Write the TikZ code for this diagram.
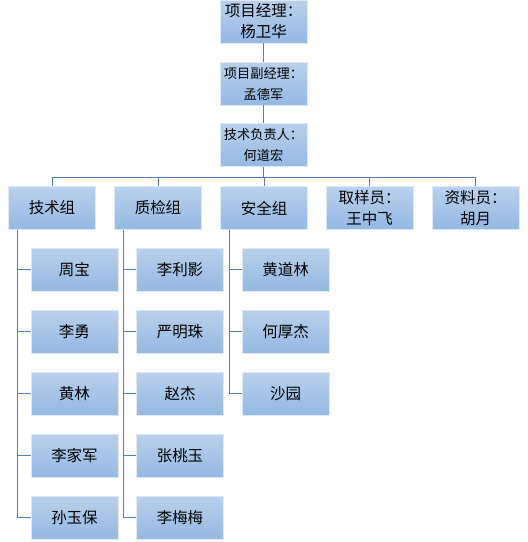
\documentclass[tikz,border=0pt]{standalone}
\usepackage{fontspec}
\newfontfamily\cjk{Noto Sans CJK SC}
\usetikzlibrary{calc}
\definecolor{boxtop}{RGB}{186,208,236}
\definecolor{boxbot}{RGB}{148,185,227}
\definecolor{boxedge}{RGB}{222,233,246}
\definecolor{linec}{RGB}{79,129,189}
\tikzset{
  box/.style={rectangle, top color=boxtop, bottom color=boxbot, draw=boxedge, line width=0.8pt,
    minimum width=87pt, minimum height=43pt, inner sep=0pt, align=center,
    font=\cjk\fontsize{15.5}{21}\selectfont},
  smalltext/.style={font=\cjk\fontsize{13.2}{21}\selectfont},
  conn/.style={draw=linec, line width=1pt}
}
\begin{document}
\begin{tikzpicture}[x=1pt,y=-1pt]
\useasboundingbox (0,0) rectangle (528,542);
\node[box] (pm) at (263.5,21.5) {项目经理：\\杨卫华};
\node[box,smalltext] (dpm) at (263.5,83.5) {项目副经理：\\孟德军};
\node[box,smalltext] (tl) at (263.5,145) {技术负责人：\\何道宏};
\node[box] (g1) at (52,208) {技术组};
\node[box] (g2) at (158,208) {质检组};
\node[box] (g3) at (264,208) {安全组};
\node[box] (g4) at (369.5,208) {取样员：\\王中飞};
\node[box] (g5) at (475.5,208) {资料员：\\胡月};
\coordinate (bus) at (0,177);
% level 1
\draw[conn] (pm.south) -- (dpm.north);
\draw[conn] (dpm.south) -- (tl.north);
\draw[conn] (tl.south) -- (tl.south |- bus);
\draw[conn] (g1.north) -- (g1.north |- bus) -- (g5.north |- bus) -- (g5.north);
\foreach \g in {g2,g3,g4}{\draw[conn] (\g.north) -- (\g.north |- bus);}
% children
\node[box] (a1) at (74.5,269.5) {周宝};
\node[box] (a2) at (74.5,331.5) {李勇};
\node[box] (a3) at (74.5,393.5) {黄林};
\node[box] (a4) at (74.5,455.5) {李家军};
\node[box] (a5) at (74.5,517.5) {孙玉保};
\node[box] (b1) at (180,269.5) {李利影};
\node[box] (b2) at (180,331.5) {严明珠};
\node[box] (b3) at (180,393.5) {赵杰};
\node[box] (b4) at (180,455.5) {张桃玉};
\node[box] (b5) at (180,517.5) {李梅梅};
\node[box] (c1) at (285.5,269.5) {黄道林};
\node[box] (c2) at (285.5,331.5) {何厚杰};
\node[box] (c3) at (285.5,393.5) {沙园};
\foreach \c in {a1,a2,a3,a4,a5}{\draw[conn] ([xshift=9pt]g1.south west) |- (\c.west);}
\foreach \c in {b1,b2,b3,b4,b5}{\draw[conn] ([xshift=9pt]g2.south west) |- (\c.west);}
\foreach \c in {c1,c2,c3}{\draw[conn] ([xshift=9pt]g3.south west) |- (\c.west);}
\end{tikzpicture}
\end{document}
